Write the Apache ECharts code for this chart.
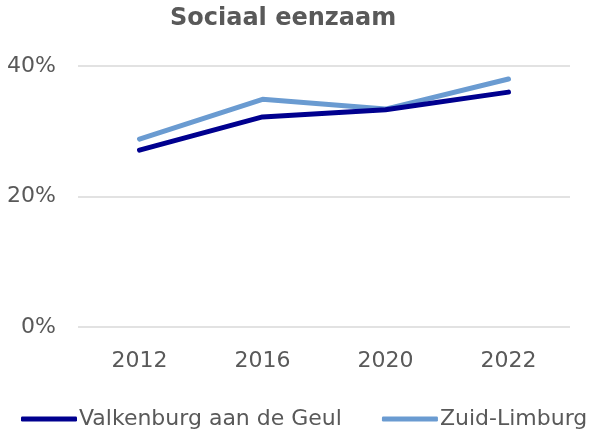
<!DOCTYPE html>
<html><head><meta charset="utf-8">
<script src="https://cdn.jsdelivr.net/npm/echarts@6/dist/echarts.min.js"></script>
<style>html,body{margin:0;padding:0;background:#fff}#c{width:594px;height:431px}</style>
</head><body><div id="c"></div>
<script>
var categories = ['2012','2016','2020','2022'];
var valkenburg = [27.1, 32.2, 33.3, 36.0];
var zuidLimburg = [28.8, 34.9, 33.4, 38.0];
var yTicks = [0, 20, 40];
var FONT = 'DejaVu Sans';
var chart = echarts.init(document.getElementById('c'));
chart.setOption({
  animation:false,
  title:{text:'Sociaal eenzaam',left:170,top:7,padding:0,textStyle:{fontFamily:FONT,fontSize:24,fontWeight:'bold',color:'#595959'}},
  grid:{left:78,right:24,top:66,bottom:104},
  xAxis:{type:'category',data:categories,boundaryGap:true,
    axisLine:{show:false},axisTick:{show:false},
    axisLabel:{fontFamily:FONT,fontSize:22,color:'#595959',margin:23}},
  yAxis:{type:'value',min:yTicks[0],max:yTicks[yTicks.length-1],interval:20,
    axisLine:{show:false},axisTick:{show:false},
    splitLine:{lineStyle:{color:'#D9D9D9',width:1.5}},
    axisLabel:{fontFamily:FONT,fontSize:22,color:'#595959',margin:22,formatter:function(v){return v+'%';}}},
  legend:{top:403,left:16,itemWidth:56,itemHeight:5,itemGap:40,icon:'roundRect',
    textStyle:{fontFamily:FONT,fontSize:22,color:'#595959',padding:[0,0,0,-3]},
    data:['Valkenburg aan de Geul','Zuid-Limburg']},
  series:[
    {name:'Valkenburg aan de Geul',type:'line',data:valkenburg,symbol:'none',z:3,
      lineStyle:{color:'#00008F',width:5,cap:'round'},itemStyle:{color:'#00008F'}},
    {name:'Zuid-Limburg',type:'line',data:zuidLimburg,symbol:'none',z:2,
      lineStyle:{color:'#6A9BD1',width:5,cap:'round'},itemStyle:{color:'#6A9BD1'}}
  ]
});
</script></body></html>
